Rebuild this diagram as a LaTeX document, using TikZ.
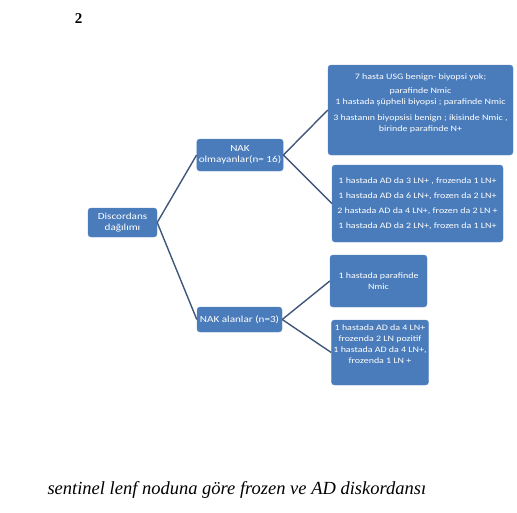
\documentclass[tikz,border=0pt]{standalone}
\usepackage{fontspec}
\setmainfont{Liberation Serif}
\newfontfamily\boxfont[FakeStretch=1.2]{Carlito}
\usetikzlibrary{positioning}
\definecolor{office}{RGB}{74,124,187}
\definecolor{wireblue}{RGB}{64,86,122}
\tikzset{
  box/.style={fill=office,draw=office!90!white,rounded corners=3pt,text=white,
    align=center,inner sep=2pt,font=\boxfont\fontsize{9.3}{11}\selectfont},
  leaf/.style={box,font=\boxfont\fontsize{8.3}{11}\selectfont},
  wire/.style={draw=wireblue,line width=1.4pt},
}
\begin{document}
\begin{tikzpicture}[x=1pt,y=-1pt]
  \useasboundingbox (0,0) rectangle (517,512);
  \node[font=\bfseries\fontsize{15}{15}\selectfont] (num) at (78.5,19) {2};
  \node[box,minimum width=69pt,minimum height=29pt] (root) at (122.5,222.5) {Discordans\\dağılımı};
  \node[box,minimum width=84pt,minimum height=32pt] (nakol) at (240,155) {NAK\\olmayanlar(n= 16)};
  \node[box,minimum width=85pt,minimum height=25pt] (nakal) at (239.5,319.5) {NAK alanlar (n=3)};
  \node[leaf,minimum width=185pt,minimum height=90pt] (resA) at (420.5,110) {7 hasta USG benign- biyopsi yok;\\[3pt]parafinde Nmic\\1 hastada şüpheli biyopsi ; parafinde Nmic\\[5pt]3 hastanın biyopsisi benign ; ikisinde Nmic ,\\birinde parafinde N+\\[4pt]};
  \node[leaf,minimum width=171pt,minimum height=77pt,font=\boxfont\fontsize{8.3}{15}\selectfont] (resB) at (417.5,203.5) {1 hastada AD da 3 LN+ , frozenda 1 LN+\\1 hastada AD da 6 LN+, frozen da 2 LN+\\2 hastada AD da 4 LN+, frozen da 2 LN +\\1 hastada AD da 2 LN+, frozen da 1 LN+};
  \node[leaf,minimum width=97pt,minimum height=52pt] (resC) at (378.5,281) {1 hastada parafinde\\Nmic};
  \node[leaf,minimum width=96pt,minimum height=65pt] (resD) at (380,352.5) {1 hastada AD da 4 LN+\\frozenda 2 LN pozitif\\1 hastada AD da 4 LN+,\\frozenda 1 LN +\\[6pt]};
  \draw[wire] (root.east) -- (nakol.west);
  \draw[wire] (root.east) -- (nakal.west);
  \draw[wire] (nakol.east) -- (resA.west);
  \draw[wire] (nakol.east) -- (resB.west);
  \draw[wire] (nakal.east) -- (resC.west);
  \draw[wire] (nakal.east) -- (resD.west);
  \node[font=\itshape\fontsize{18.5}{18.5}\selectfont,anchor=base west] (caption) at (44,494) {sentinel lenf noduna göre frozen ve AD diskordansı};
\end{tikzpicture}
\end{document}
